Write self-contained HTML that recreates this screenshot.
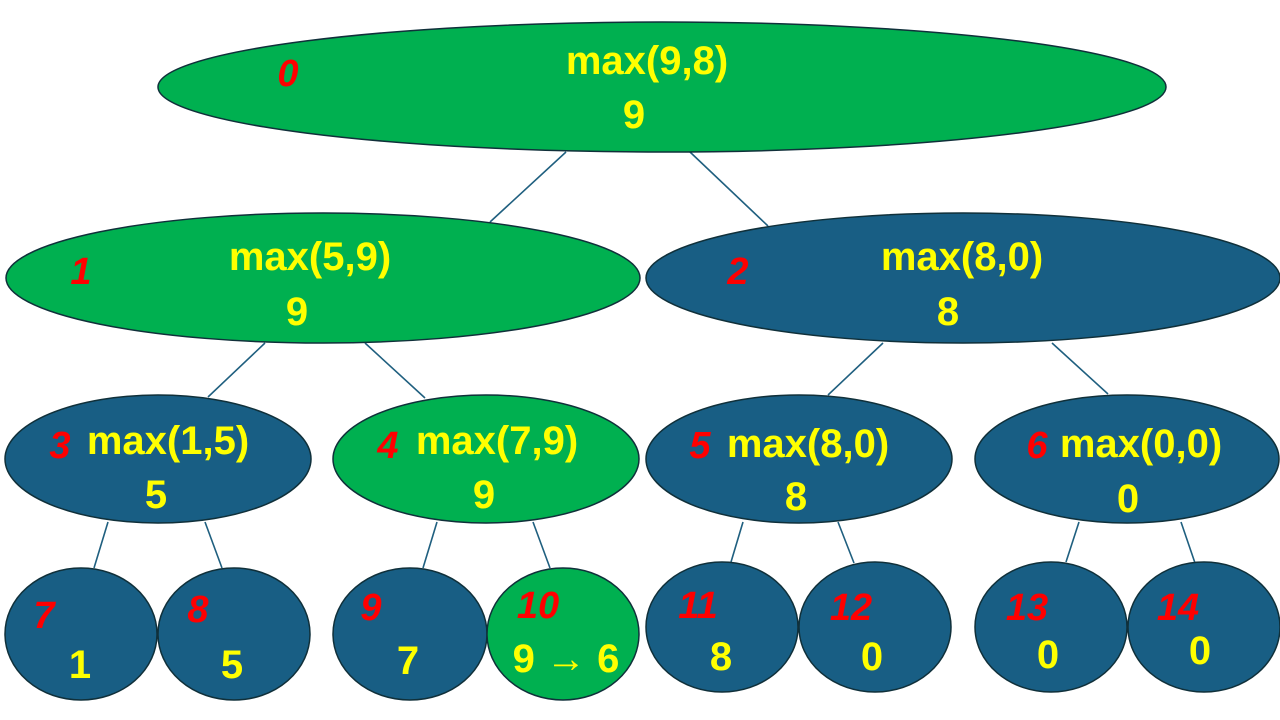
<!DOCTYPE html>
<html><head><meta charset="utf-8"><style>
html,body{margin:0;padding:0;background:#fff;width:1280px;height:720px;overflow:hidden}
text{font-family:"Liberation Sans",sans-serif;font-weight:bold}
.y{fill:#ffff00;font-size:40px}
.r{fill:#ff0000;font-size:38px;font-style:italic}
</style></head><body>
<svg width="1280" height="720" viewBox="0 0 1280 720" xmlns="http://www.w3.org/2000/svg">
<g stroke="#1f5f7f" stroke-width="1.6">
<line x1="566" y1="152" x2="490" y2="222"/>
<line x1="690" y1="152" x2="768" y2="226"/>
<line x1="265" y1="343" x2="208" y2="397"/>
<line x1="365" y1="343" x2="425" y2="398"/>
<line x1="883" y1="343" x2="828" y2="395"/>
<line x1="1052" y1="343" x2="1108" y2="394"/>
<line x1="108" y1="522" x2="94" y2="568"/>
<line x1="205" y1="522" x2="222" y2="568"/>
<line x1="437" y1="522" x2="423" y2="568"/>
<line x1="533" y1="522" x2="550" y2="568"/>
<line x1="743" y1="522" x2="731" y2="562"/>
<line x1="838" y1="522" x2="854" y2="563"/>
<line x1="1079" y1="522" x2="1066" y2="562"/>
<line x1="1181" y1="522" x2="1195" y2="563"/>
</g>
<g stroke="#10303a" stroke-width="1.5">
<ellipse cx="662" cy="87" rx="504" ry="65" fill="#00b050"/>
<ellipse cx="323" cy="278" rx="317" ry="65" fill="#00b050"/>
<ellipse cx="963" cy="278" rx="317" ry="65" fill="#185e84"/>
<ellipse cx="158" cy="459" rx="153" ry="64" fill="#185e84"/>
<ellipse cx="486" cy="459" rx="153" ry="64" fill="#00b050"/>
<ellipse cx="799" cy="459" rx="153" ry="64" fill="#185e84"/>
<ellipse cx="1127" cy="459" rx="152" ry="64" fill="#185e84"/>
<ellipse cx="81" cy="634" rx="76" ry="66" fill="#185e84"/>
<ellipse cx="234" cy="634" rx="76" ry="66" fill="#185e84"/>
<ellipse cx="410" cy="634" rx="77" ry="66" fill="#185e84"/>
<ellipse cx="563" cy="634" rx="76" ry="66" fill="#00b050"/>
<ellipse cx="722" cy="627" rx="76" ry="65" fill="#185e84"/>
<ellipse cx="875" cy="627" rx="76" ry="65" fill="#185e84"/>
<ellipse cx="1051" cy="627" rx="76" ry="65" fill="#185e84"/>
<ellipse cx="1204" cy="627" rx="76" ry="65" fill="#185e84"/>
</g>
<g text-anchor="middle">
<text class="y" x="647" y="74">max(9,8)</text>
<text class="y" x="634" y="128">9</text>
<text class="r" x="288" y="86">0</text>
<text class="y" x="310" y="270">max(5,9)</text>
<text class="y" x="297" y="325">9</text>
<text class="r" x="81" y="284">1</text>
<text class="y" x="962" y="270">max(8,0)</text>
<text class="y" x="948" y="325">8</text>
<text class="r" x="738" y="284">2</text>
<text class="y" x="168" y="454">max(1,5)</text>
<text class="y" x="156" y="508">5</text>
<text class="r" x="60" y="458">3</text>
<text class="y" x="497" y="454">max(7,9)</text>
<text class="y" x="484" y="508">9</text>
<text class="r" x="388" y="458">4</text>
<text class="y" x="808" y="457">max(8,0)</text>
<text class="y" x="796" y="510">8</text>
<text class="r" x="700" y="458">5</text>
<text class="y" x="1141" y="457">max(0,0)</text>
<text class="y" x="1128" y="512">0</text>
<text class="r" x="1037" y="458">6</text>
<text class="r" x="44" y="628">7</text>
<text class="y" x="80" y="678">1</text>
<text class="r" x="198" y="622">8</text>
<text class="y" x="232" y="678">5</text>
<text class="r" x="371" y="620">9</text>
<text class="y" x="408" y="674">7</text>
<text class="r" x="538" y="618">10</text>
<text class="y" x="566" y="672">9 → 6</text>
<text class="r" x="698" y="618">11</text>
<text class="y" x="721" y="670">8</text>
<text class="r" x="851" y="620">12</text>
<text class="y" x="872" y="670">0</text>
<text class="r" x="1027" y="620">13</text>
<text class="y" x="1048" y="668">0</text>
<text class="r" x="1178" y="620">14</text>
<text class="y" x="1200" y="664">0</text>
</g>
</svg>
</body></html>
